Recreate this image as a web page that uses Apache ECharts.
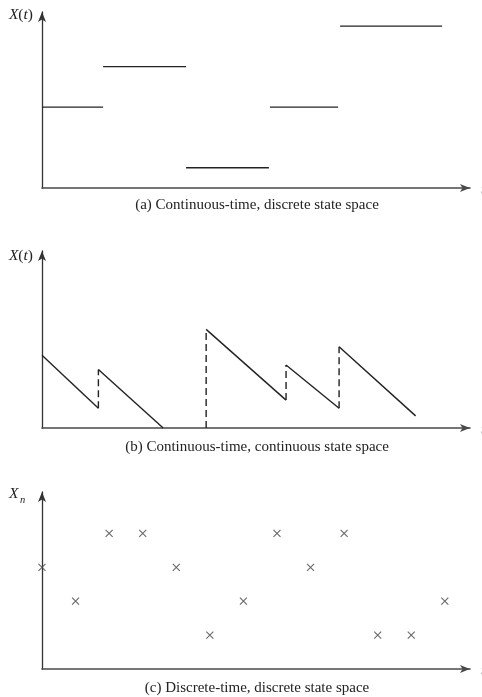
<!DOCTYPE html>
<html>
<head>
<meta charset="utf-8">
<title>Stochastic process classes</title>
<script src="https://cdn.jsdelivr.net/npm/echarts@6/dist/echarts.min.js"></script>
<style>
  html, body { margin: 0; padding: 0; background: #fff; }
  #chart { width: 482px; height: 697px; }
</style>
</head>
<body>
<div id="chart"></div>
<script>
// Shared time range for all three panels
const timeMax = 12.75;

// (a) piecewise-constant path: level held on [start, end)
const stepStart  = [0, 1.82, 4.29, 6.79, 8.88];
const stepEnd    = [1.82, 4.29, 6.76, 8.82, 11.92];
const stepLevel  = [2, 3, 0.5, 2, 4];

// (b) sawtooth path: linear decay ramps joined by upward jumps
const rampStartT = [0, 1.68, 4.89, 7.27, 8.85];
const rampStartX = [1.80, 1.45, 2.44, 1.56, 2.01];
const rampEndT   = [1.68, 3.61, 7.27, 8.85, 11.13];
const rampEndX   = [0.49, 0, 0.69, 0.49, 0.30];
const jumpT      = [1.68, 4.89, 7.27, 8.85];
const jumpFrom   = [0.49, 0, 0.69, 0.49];
const jumpTo     = [1.45, 2.44, 1.56, 2.01];

// (c) discrete-time chain sampled at n = 0..12
const steps  = [0, 1, 2, 3, 4, 5, 6, 7, 8, 9, 10, 11, 12];
const states = [3, 2, 4, 4, 3, 1, 2, 4, 3, 4, 1, 1, 2];

const ink = '#222';
const serif = '"Liberation Serif", "DejaVu Serif", serif';

const grids = [
  { left: 42, top: 12,  width: 428, height: 176 },
  { left: 42, top: 251, width: 428, height: 177 },
  { left: 42, top: 492, width: 428, height: 177 }
];
const yMax = [4.35, 4.38, 5.22];

const xAxes = grids.map((g, i) => ({
  type: 'value', gridIndex: i, min: 0, max: timeMax,
  axisLine: { show: true, onZero: false, symbol: ['none', 'arrow'], symbolSize: [6, 10],
              lineStyle: { color: '#4a4a4a', width: 1.6 } },
  axisTick: { show: false }, axisLabel: { show: false }, splitLine: { show: false }
}));
const yAxes = grids.map((g, i) => ({
  type: 'value', gridIndex: i, min: 0, max: yMax[i],
  axisLine: { show: true, onZero: false, symbol: ['none', 'arrow'], symbolSize: [6, 10],
              lineStyle: { color: '#333', width: 1.3 } },
  axisTick: { show: false }, axisLabel: { show: false }, splitLine: { show: false }
}));

const series = [];
const segLine = (gi, data, dashed) => ({
  type: 'line', xAxisIndex: gi, yAxisIndex: gi, data,
  symbol: 'none', silent: true, animation: false, clip: false,
  lineStyle: { color: ink, width: 1.4, type: dashed ? [7, 4] : 'solid' }
});

// (a) horizontal holding segments
stepLevel.forEach((lv, k) => {
  series.push(segLine(0, [[stepStart[k], lv], [stepEnd[k], lv]], false));
});

// (b) decay ramps and dashed jumps
rampStartT.forEach((t0, k) => {
  series.push(segLine(1, [[t0, rampStartX[k]], [rampEndT[k], rampEndX[k]]], false));
});
jumpT.forEach((t, k) => {
  series.push(segLine(1, [[t, jumpFrom[k]], [t, jumpTo[k]]], true));
});

// (c) sampled states as crosses
series.push({
  type: 'scatter', xAxisIndex: 2, yAxisIndex: 2,
  data: steps.map((n, k) => [n, states[k]]),
  symbol: 'path://M0,0L10,10M10,0L0,10', symbolSize: 7,
  silent: true, animation: false, clip: false,
  itemStyle: { color: 'transparent', borderColor: '#444', borderWidth: 1.1 }
});

const yName = (y) => ({
  type: 'text', x: 33, y,
  style: {
    text: '{i|X}({i|t})', textAlign: 'right', textVerticalAlign: 'middle',
    font: '15.5px ' + serif, fill: ink,
    rich: { i: { fontStyle: 'italic', fontFamily: serif, fontSize: 15.5, fill: ink } }
  }
});
const tName = (y) => ({
  type: 'text', x: 481, y,
  style: { text: 't', textAlign: 'left', textVerticalAlign: 'middle',
           font: 'italic 15px ' + serif, fill: ink }
});
const caption = (text, y) => ({
  type: 'text', x: 257, y,
  style: { text, textAlign: 'center', textVerticalAlign: 'middle',
           font: '15px ' + serif, fill: ink }
});

const graphic = [
  yName(14.5), yName(256),
  { type: 'text', x: 9, y: 494,
    style: { text: 'X', textAlign: 'left', textVerticalAlign: 'middle',
             font: 'italic 15.5px ' + serif, fill: ink } },
  { type: 'text', x: 20, y: 500,
    style: { text: 'n', textAlign: 'left', textVerticalAlign: 'middle',
             font: 'italic 10.5px ' + serif, fill: ink } },
  tName(190), tName(430), tName(671),
  caption('(a) Continuous-time, discrete state space', 205),
  caption('(b) Continuous-time, continuous state space', 447),
  caption('(c) Discrete-time, discrete state space', 688)
];

const chart = echarts.init(document.getElementById('chart'), null, { renderer: 'canvas' });
chart.setOption({
  backgroundColor: '#fff',
  animation: false,
  grid: grids,
  xAxis: xAxes,
  yAxis: yAxes,
  series,
  graphic
});
</script>
</body>
</html>
